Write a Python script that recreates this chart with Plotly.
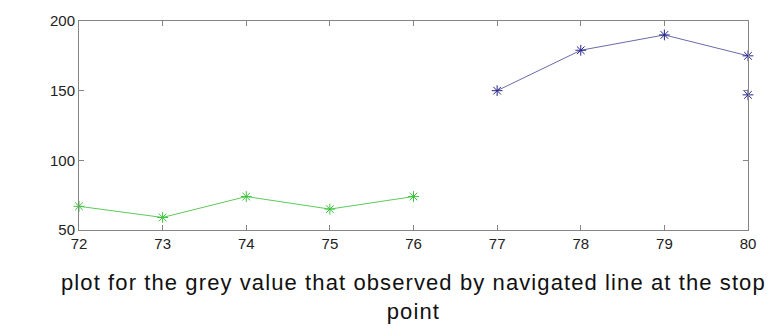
import plotly.graph_objects as go

# Grey values
green_x = [72, 73, 74, 75, 76]
green_y = [67, 59, 74, 65, 74]

blue_x = [77, 78, 79, 80]
blue_y = [150, 179, 190, 175]

stop_x = [80]
stop_y = [147]

x_ticks = [72, 73, 74, 75, 76, 77, 78, 79, 80]
y_ticks = [50, 100, 150, 200]

caption_lines = ["plot for the grey value that observed by navigated line at the stop", "point"]

fig = go.Figure()

fig.add_trace(go.Scatter(
    x=green_x, y=green_y, mode="lines+markers",
    line=dict(color="#5ccb5c", width=1),
    marker=dict(symbol="asterisk-open", size=9, color="#3cc43c",
                line=dict(color="#3cc43c", width=1)),
    cliponaxis=False, showlegend=False,
))
fig.add_trace(go.Scatter(
    x=blue_x, y=blue_y, mode="lines+markers",
    line=dict(color="#6a6aaa", width=1),
    marker=dict(symbol="asterisk-open", size=9, color="#26268c",
                line=dict(color="#26268c", width=1)),
    cliponaxis=False, showlegend=False,
))
fig.add_trace(go.Scatter(
    x=stop_x, y=stop_y, mode="markers",
    marker=dict(symbol="asterisk-open", size=9, color="#26268c",
                line=dict(color="#26268c", width=1)),
    cliponaxis=False, showlegend=False,
))

axis_style = dict(
    showgrid=False, zeroline=False,
    showline=True, linecolor="#858585", linewidth=1, mirror="ticks",
    ticks="inside", ticklen=5, tickcolor="#858585", tickwidth=1,
    tickfont=dict(family="Liberation Sans, Arial, sans-serif", size=15, color="#222222"),
)

fig.update_xaxes(range=[72, 80], tickvals=x_ticks, ticktext=[str(v) for v in x_ticks],
                 ticklabelstandoff=0, **axis_style)
fig.update_yaxes(range=[50, 200], tickvals=y_ticks, ticktext=[str(v) for v in y_ticks],
                 **axis_style)

# Caption under the axes, slightly spaced out
caption = "<br>".join(
    '<span style="letter-spacing:1.1px">' + line + "</span>" for line in caption_lines
)
fig.add_annotation(
    text=caption, xref="paper", yref="paper", x=0.50, y=-0.18,
    xanchor="center", yanchor="top", showarrow=False, align="center",
    font=dict(family="Liberation Sans, Arial, sans-serif", size=22, color="#111111"),
)

fig.update_layout(
    width=783, height=329,
    margin=dict(l=79, r=35, t=15, b=99),
    paper_bgcolor="white", plot_bgcolor="white",
)

fig.write_html("out.html")
